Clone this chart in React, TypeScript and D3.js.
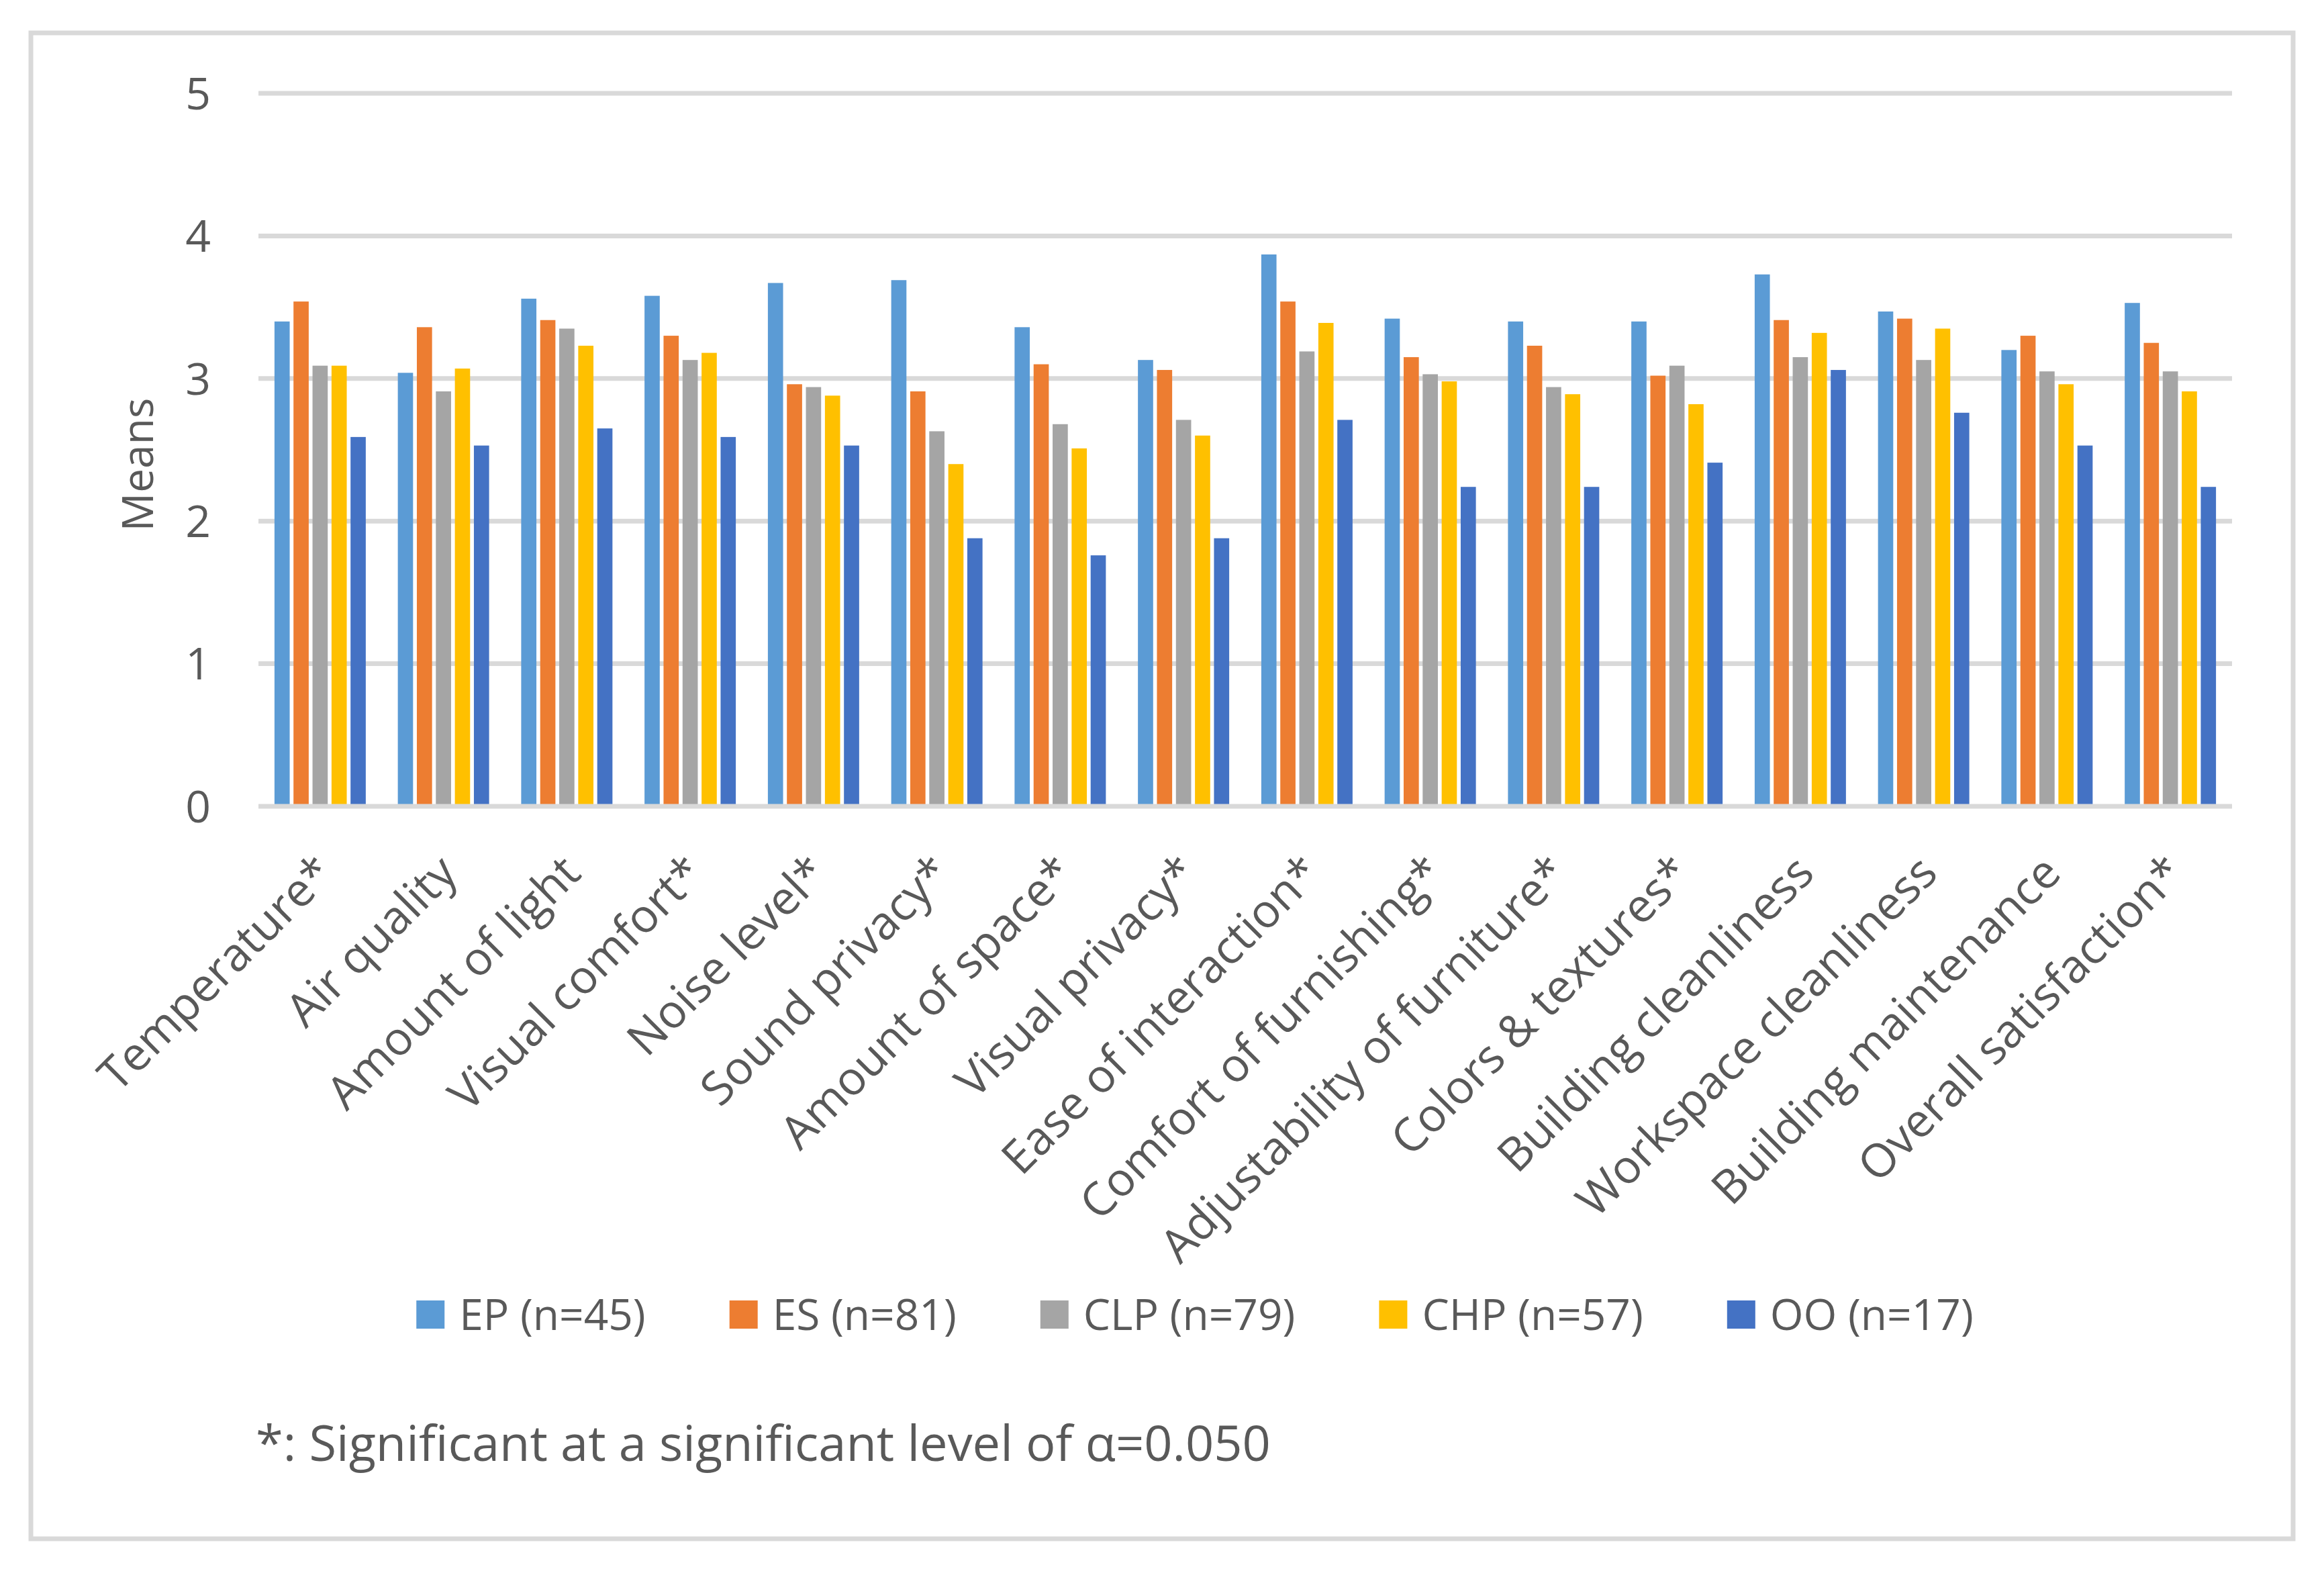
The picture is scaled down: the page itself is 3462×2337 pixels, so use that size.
import { useEffect, useRef } from 'react'
import * as d3 from 'd3'

const categories = [
  'Temperature*',
  'Air quality',
  'Amount of light',
  'Visual comfort*',
  'Noise level*',
  'Sound privacy*',
  'Amount of space*',
  'Visual privacy*',
  'Ease of interaction*',
  'Comfort of furnishing*',
  'Adjustability of furniture*',
  'Colors & textures*',
  'Building cleanliness',
  'Workspace cleanliness',
  'Building maintenance',
  'Overall satisfaction*',
]

const seriesNames = ['EP (n=45)', 'ES (n=81)', 'CLP (n=79)', 'CHP (n=57)', 'OO (n=17)']
const seriesColors = ['#5B9BD5', '#ED7D31', '#A5A5A5', '#FFC000', '#4472C4']

const epValues = [3.40, 3.04, 3.56, 3.58, 3.67, 3.69, 3.36, 3.13, 3.87, 3.42, 3.40, 3.40, 3.73, 3.47, 3.20, 3.53]
const esValues = [3.54, 3.36, 3.41, 3.30, 2.96, 2.91, 3.10, 3.06, 3.54, 3.15, 3.23, 3.02, 3.41, 3.42, 3.30, 3.25]
const clpValues = [3.09, 2.91, 3.35, 3.13, 2.94, 2.63, 2.68, 2.71, 3.19, 3.03, 2.94, 3.09, 3.15, 3.13, 3.05, 3.05]
const chpValues = [3.09, 3.07, 3.23, 3.18, 2.88, 2.40, 2.51, 2.60, 3.39, 2.98, 2.89, 2.82, 3.32, 3.35, 2.96, 2.91]
const ooValues = [2.59, 2.53, 2.65, 2.59, 2.53, 1.88, 1.76, 1.88, 2.71, 2.24, 2.24, 2.41, 3.06, 2.76, 2.53, 2.24]

const yTicks = [0, 1, 2, 3, 4, 5]
const yTitle = 'Means'
const footnote = '*: Significant at a significant level of α=0.050'

const W = 3462
const H = 2337
const FONT = '"Open Sans", "Noto Sans", sans-serif'
const TEXT = '#595959'
const GRID = '#D9D9D9'

export default function App() {
  const svgRef = useRef<SVGSVGElement>(null)

  useEffect(() => {
    if (!svgRef.current) return
    const svg = d3.select(svgRef.current)
    svg.selectAll('*').remove()

    const allSeries = [epValues, esValues, clpValues, chpValues, ooValues]

    // outer frame
    svg.append('rect')
      .attr('x', 46).attr('y', 49)
      .attr('width', 3370).attr('height', 2243)
      .attr('fill', '#fff')
      .attr('stroke', GRID)
      .attr('stroke-width', 7)

    const plot = { left: 385, right: 3325, top: 139, bottom: 1201 }

    const x0 = d3.scaleBand<string>()
      .domain(categories)
      .range([plot.left, plot.right])
      .paddingInner(0.26)
      .paddingOuter(0.13)

    const x1 = d3.scaleBand<number>()
      .domain(d3.range(seriesNames.length))
      .range([0, x0.bandwidth()])
      .paddingInner(0.2)

    const y = d3.scaleLinear().domain([0, 5]).range([plot.bottom, plot.top])

    const g = svg.append('g')

    // gridlines
    g.selectAll('line.grid')
      .data(yTicks.filter(t => t !== 0))
      .join('line')
      .attr('class', 'grid')
      .attr('x1', plot.left).attr('x2', plot.right)
      .attr('y1', d => y(d)).attr('y2', d => y(d))
      .attr('stroke', GRID)
      .attr('stroke-width', 7)

    // bars
    categories.forEach((cat, ci) => {
      const grp = g.append('g').attr('transform', `translate(${x0(cat)},0)`)
      allSeries.forEach((vals, si) => {
        grp.append('rect')
          .attr('x', x1(si)!)
          .attr('y', y(vals[ci]))
          .attr('width', x1.bandwidth())
          .attr('height', y(0) - y(vals[ci]))
          .attr('fill', seriesColors[si])
      })
    })

    // baseline
    g.append('line')
      .attr('x1', plot.left).attr('x2', plot.right)
      .attr('y1', y(0)).attr('y2', y(0))
      .attr('stroke', GRID)
      .attr('stroke-width', 7)

    // y tick labels
    g.selectAll('text.ytick')
      .data(yTicks)
      .join('text')
      .attr('class', 'ytick')
      .attr('x', 314)
      .attr('y', d => y(d))
      .attr('dy', '0.36em')
      .attr('text-anchor', 'end')
      .attr('font-family', FONT)
      .attr('font-size', 66)
      .attr('fill', TEXT)
      .text(d => d)

    // y title
    g.append('text')
      .attr('transform', 'translate(228,692) rotate(-90)')
      .attr('text-anchor', 'middle')
      .attr('font-family', FONT)
      .attr('font-size', 64)
      .attr('fill', TEXT)
      .text(yTitle)

    // category labels
    g.selectAll('text.xcat')
      .data(categories)
      .join('text')
      .attr('class', 'xcat')
      .attr('transform', d => `translate(${x0(d)! + x0.bandwidth() / 2 + 24},1304) rotate(-45)`)
      .attr('text-anchor', 'end')
      .attr('font-family', FONT)
      .attr('font-size', 69)
      .attr('fill', TEXT)
      .text(d => d)

    // legend
    const legend = svg.append('g')
    const items = seriesNames.map((name, i) => {
      const item = legend.append('g')
      item.append('rect')
        .attr('x', 0).attr('y', 1937)
        .attr('width', 42).attr('height', 42)
        .attr('fill', seriesColors[i])
      const t = item.append('text')
        .attr('x', 64).attr('y', 1981)
        .attr('font-family', FONT)
        .attr('font-size', 64)
        .attr('fill', TEXT)
        .text(name)
      const w = (t.node() as SVGTextElement).getComputedTextLength()
      return { item, width: 64 + w }
    })
    const gap = 125
    const total = d3.sum(items, d => d.width) + gap * (items.length - 1)
    let cursor = 1780 - total / 2
    items.forEach(d => {
      d.item.attr('transform', `translate(${cursor},0)`)
      cursor += d.width + gap
    })

    // footnote
    svg.append('text')
      .attr('x', 381).attr('y', 2176)
      .attr('font-family', FONT)
      .attr('font-size', 74)
      .attr('fill', TEXT)
      .text(footnote)
  }, [])

  return (
    <svg
      ref={svgRef}
      width={W}
      height={H}
      style={{ position: 'absolute', left: 0, top: 0, background: '#fff' }}
    />
  )
}
